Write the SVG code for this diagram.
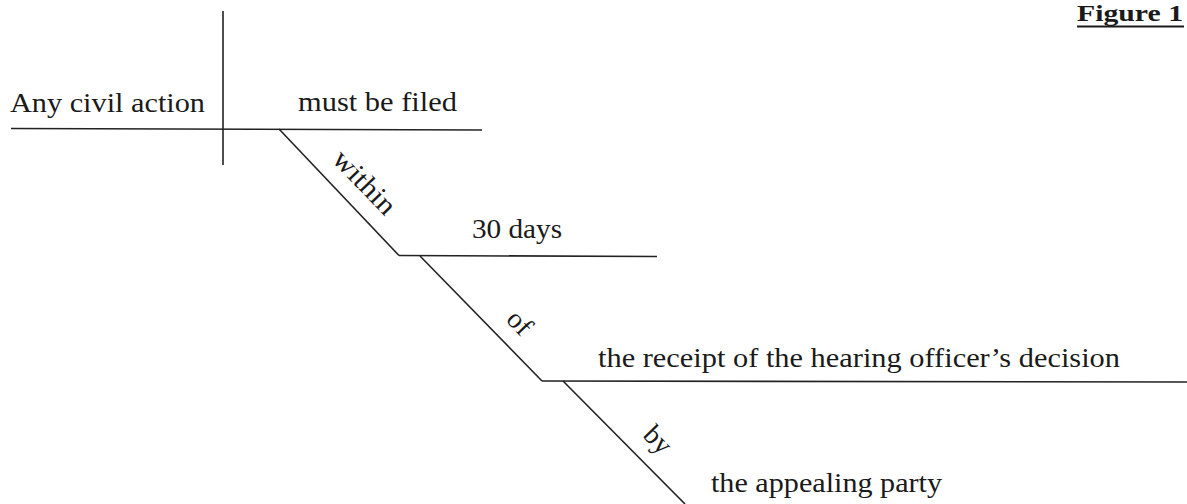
<svg xmlns="http://www.w3.org/2000/svg" width="1187" height="504" viewBox="0 0 1187 504">
<style>
.ln{stroke:#222;stroke-width:1.6;fill:none}
.t{font-family:"Liberation Serif","Times New Roman",serif;font-size:28px;fill:#1a1a1a}
.fig{font-family:"Liberation Serif","Times New Roman",serif;font-size:23px;font-weight:bold;fill:#1a1a1a}
</style>
<rect width="1187" height="504" fill="#ffffff"/>
<g id="connectors">
<line class="ln" x1="223" y1="11" x2="223" y2="165"/>
<line class="ln" x1="11" y1="128.5" x2="482" y2="130"/>
<line class="ln" x1="279" y1="129" x2="399" y2="255.5"/>
<line class="ln" x1="399" y1="255.5" x2="657" y2="256.5"/>
<line class="ln" x1="420" y1="256" x2="542" y2="381"/>
<line class="ln" x1="542" y1="381" x2="1187" y2="382"/>
<line class="ln" x1="563" y1="381" x2="685" y2="504"/>
</g>
<g id="subject"><text class="t" x="10" y="112" textLength="195" lengthAdjust="spacingAndGlyphs">Any civil action</text></g>
<g id="verb"><text class="t" x="298" y="111" textLength="159" lengthAdjust="spacingAndGlyphs">must be filed</text></g>
<g id="prep-within"><text class="t" text-anchor="middle" transform="translate(358,188.6) rotate(46)" textLength="78" lengthAdjust="spacingAndGlyphs">within</text></g>
<g id="obj-30days"><text class="t" x="472" y="238" textLength="90" lengthAdjust="spacingAndGlyphs">30 days</text></g>
<g id="prep-of"><text class="t" text-anchor="middle" transform="translate(513,329) rotate(46)">of</text></g>
<g id="obj-receipt"><text class="t" x="598" y="367" textLength="522" lengthAdjust="spacingAndGlyphs">the receipt of the hearing officer’s decision</text></g>
<g id="prep-by"><text class="t" text-anchor="middle" transform="translate(651.5,446) rotate(46)">by</text></g>
<g id="obj-party"><text class="t" x="711" y="492" textLength="231" lengthAdjust="spacingAndGlyphs">the appealing party</text></g>
<g id="figure-label">
<text class="fig" x="1077" y="21" textLength="106" lengthAdjust="spacingAndGlyphs">Figure 1</text>
<line x1="1077" y1="26.5" x2="1184" y2="26.5" stroke="#1a1a1a" stroke-width="2"/>
</g>
</svg>
